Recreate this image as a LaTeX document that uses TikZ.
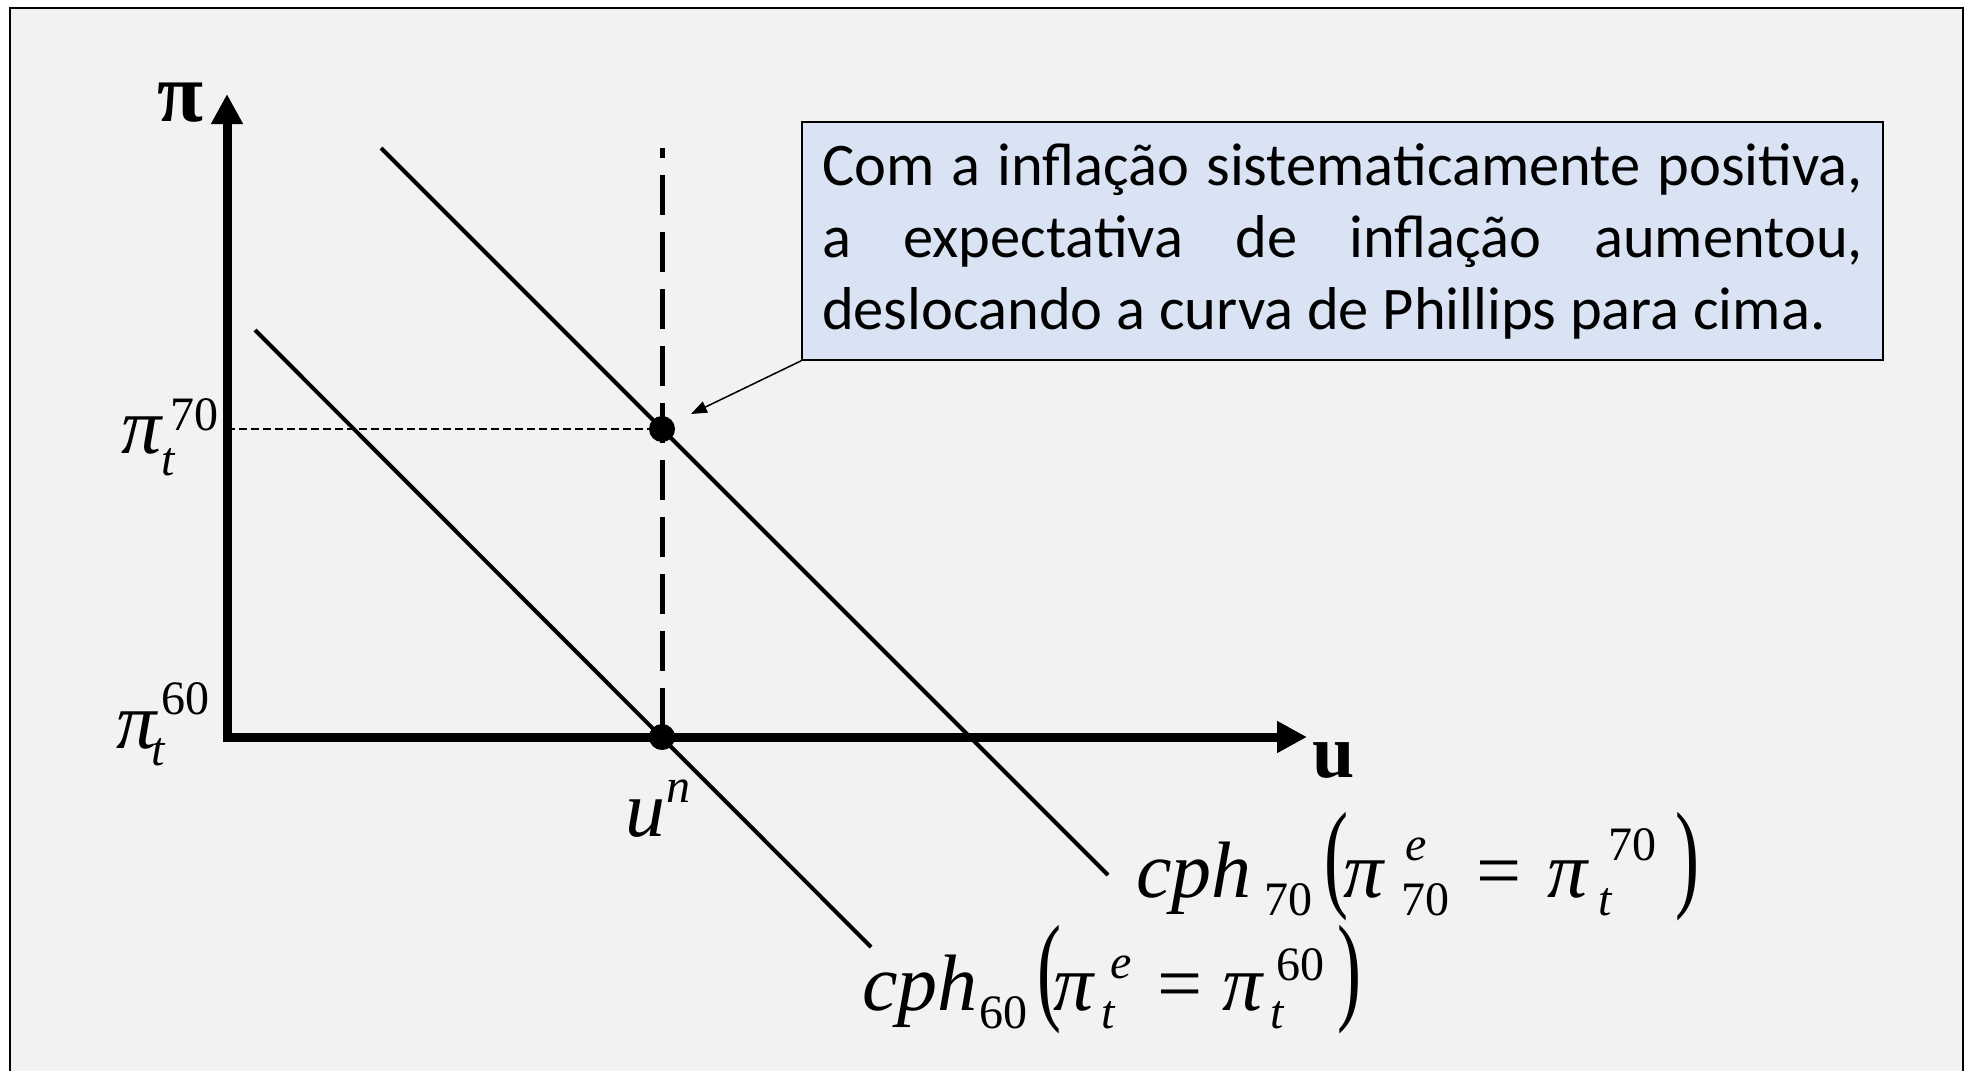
\documentclass[tikz,border=0pt]{standalone}
\usepackage{fontspec}
\setmainfont{Liberation Serif}
\newfontfamily\boxfont{Carlito}
\usetikzlibrary{arrows.meta}
\definecolor{bgc}{HTML}{F2F2F2}
\definecolor{boxc}{HTML}{DAE3F3}
\newcommand\bigf{\fontsize{80}{90}\selectfont}
\newcommand\smf{\fontsize{48}{54}\selectfont}
\newcommand\lpar{\scalebox{0.9}[1.5]{\bigf(}}
\newcommand\rpar{\scalebox{0.9}[1.5]{\bigf)}}
\begin{document}
\begin{tikzpicture}[x=1pt,y=-1pt,
  lbl/.style={inner sep=0pt,outer sep=0pt,anchor=base west},
  big/.style={lbl,font=\bigf\itshape},
  bigup/.style={lbl,font=\bigf},
  sml/.style={lbl,font=\smf},
  smli/.style={lbl,font=\smf\itshape},
  axisline/.style={line width=9pt,-{Triangle[length=30pt,width=30pt]}},
  curve/.style={line width=4pt},
  dot/.style={circle,fill=black,minimum size=26pt,inner sep=0pt},
]
\useasboundingbox (0,0) rectangle (1966,1071);
\fill[white] (0,0) rectangle (1966,1071);
\draw[line width=2.5pt,fill=bgc] (10,8) -- (1963,8) -- (1963,1085) -- (10,1085) -- cycle;

% guide lines
\draw[line width=1.5pt,dash pattern=on 8pt off 4pt] (227,429) -- (662,429);
\draw[line width=5pt,dash pattern=on 40pt off 17pt,dash phase=30pt] (662,148) -- (662,737);

% Phillips curves
\coordinate (c70a) at (381,148);
\coordinate (c70b) at (1108,875);
\coordinate (c60a) at (255,330);
\coordinate (c60b) at (871,947);
\draw[curve] (c70a) -- (c70b);
\draw[curve] (c60a) -- (c60b);

% axes
\coordinate (orig) at (227,737);
\coordinate (ytip) at (227,94);
\coordinate (xtip) at (1307,737);
\draw[axisline] (227,741.5) -- (ytip);
\draw[axisline] (222.5,737) -- (xtip);

% dots
\node[dot] (d70) at (662,429) {};
\node[dot] (d60) at (662,737) {};

% callout box
\node[draw=black,line width=1.5pt,fill=boxc,minimum width=1081pt,minimum height=238pt,inner sep=0pt] (box) at (1342.5,241)
 {\parbox{1041pt}{\boxfont\fontsize{60.5}{72}\selectfont Com a inflação sistematicamente positiva,\linebreak a expectativa de inflação aumentou,\linebreak deslocando a curva de Phillips para cima.}};
\coordinate (ctip) at (691,414);
\draw[line width=1.5pt,-{Triangle[length=16pt,width=12pt]}] (box.south west) -- (ctip);

% axis labels
\node[lbl,font=\fontsize{84}{90}\selectfont\bfseries] (pilab) at (157,121) {π};
\node[lbl,font=\fontsize{76}{80}\selectfont\bfseries] (ulab) at (1312,777) {u};

\node[big] (p70) at (121,453) {π};
\node[smli] (p70t) at (161,475) {t};
\node[sml] (p70s) at (170,430) {70};

\node[big] (p60) at (116,748) {π};
\node[smli] (p60t) at (151,765) {t};
\node[sml] (p60s) at (161,714) {60};

\node[big] (un) at (625,836) {u};
\node[smli] (unn) at (666,802) {n};

% cph70 label
\node[big] (a1) at (1136,897) {cph};
\node[sml] (a2) at (1264,915) {70};
\node[lbl] (a3) at (1324,895) {\lpar};
\node[big] (a4) at (1343,897) {π};
\node[smli] (a5) at (1405,860) {e};
\node[sml] (a6) at (1401,915) {70};
\node[bigup] (a7) at (1476,897) {=};
\node[big] (a8) at (1547,897) {π};
\node[smli] (a9) at (1598,915) {t};
\node[sml] (a10) at (1608,860) {70};
\node[lbl] (a11) at (1675,895) {\rpar};

% cph60 label
\node[big] (b1) at (862,1010) {cph};
\node[sml] (b2) at (979,1028) {60};
\node[lbl] (b3) at (1037,1008) {\lpar};
\node[big] (b4) at (1053,1010) {π};
\node[smli] (b5) at (1110,978) {e};
\node[smli] (b6) at (1101,1028) {t};
\node[bigup] (b7) at (1157,1010) {=};
\node[big] (b8) at (1222,1010) {π};
\node[smli] (b9) at (1270,1028) {t};
\node[sml] (b10) at (1276,980) {60};
\node[lbl] (b11) at (1337,1008) {\rpar};
\end{tikzpicture}
\end{document}
